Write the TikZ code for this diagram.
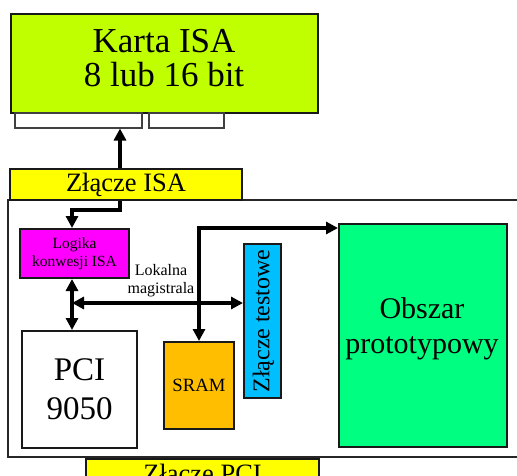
\documentclass[tikz,border=0pt]{standalone}
\usepackage{fontspec}
\setmainfont{Liberation Serif}
\usetikzlibrary{arrows.meta}
\definecolor{cardlime}{HTML}{BFFF00}
\definecolor{slotyellow}{HTML}{FFFF00}
\definecolor{logicmag}{HTML}{FF00FF}
\definecolor{sramorange}{HTML}{FFBF00}
\definecolor{testcyan}{HTML}{00BFFF}
\definecolor{protogreen}{HTML}{00FF80}
\begin{document}
\begin{tikzpicture}[x=1pt,y=-1pt,
  blk/.style={draw=black!90, line width=2pt, inner sep=0pt, align=center, anchor=north west},
  tab/.style={draw=black!75, line width=1.5pt, fill=white, inner sep=0pt, anchor=north west},
  board/.style={draw=black!85, line width=1.5pt},
  bus/.style={line width=3.5pt, line join=miter, -{Triangle[length=12pt,width=12pt]}},
  dbus/.style={line width=3.5pt, line join=miter, {Triangle[length=12pt,width=12pt]}-{Triangle[length=12pt,width=12pt]}},
  lbl/.style={align=center, inner sep=0pt, font=\fontsize{16}{18}\selectfont}
]
\useasboundingbox (0,0) rectangle (517,475);
\clip (0,0) rectangle (517,475);

% ISA card with its edge connector tabs
\node[blk, fill=cardlime, minimum width=307pt, minimum height=99pt] (card) at (10,13) {};
\node[align=center, inner sep=0pt, font=\fontsize{35}{34}\selectfont] (cardtxt) at (164,58) {Karta ISA\\8 lub 16 bit};
\node[tab, minimum width=127pt, minimum height=15pt] (tabA) at (14,112) {};
\node[tab, minimum width=75pt, minimum height=15pt] (tabB) at (148,112) {};

% board outline
\draw[board] (8,200) rectangle (540,457);

% connectors
\node[blk, fill=slotyellow, minimum width=232pt, minimum height=31pt, font=\fontsize{26.5}{28}\selectfont] (isa) at (9,168) {Złącze ISA};
\node[blk, fill=slotyellow, minimum width=233pt, minimum height=40pt, text depth=12pt, font=\fontsize{26.5}{28}\selectfont] (pci) at (85,458) {Złącze PCI};

% blocks on the board
\node[blk, fill=logicmag, minimum width=109pt, minimum height=49pt, font=\fontsize{15.5}{17.7}\selectfont] (logic) at (19,228) {Logika\\konwesji ISA};
\node[blk, fill=white, minimum width=115pt, minimum height=117pt, font=\fontsize{33}{39}\selectfont] (bridge) at (21,330) {PCI\\9050};
\node[blk, fill=sramorange, minimum width=70pt, minimum height=87pt, font=\fontsize{18.7}{20}\selectfont] (sram) at (163,341) {SRAM};
\node[blk, fill=testcyan, minimum width=37pt, minimum height=154pt] (test) at (243,243) {};
\node[rotate=90, inner sep=0pt, font=\fontsize{24}{26}\selectfont] (testtxt) at ([xshift=1pt]test.center) {Złącze testowe};
\node[blk, fill=protogreen, minimum width=168pt, minimum height=223pt] (proto) at (338,223) {};
\node[align=center, inner sep=0pt, font=\fontsize{30}{35}\selectfont] (prototxt) at (422,328.5) {Obszar\\prototypowy};

\node[lbl] (buslbl) at (161,281) {Lokalna\\magistrala};

% routing coordinates
\coordinate (isax) at (120,0);
\coordinate (busx) at (72,0);
\coordinate (busy) at (0,303);
\coordinate (sramx) at (199,0);
\coordinate (sramy) at (0,228);
\coordinate (isabend) at (120,210);

% buses
\draw[bus] (isa.north -| isax) -- (tabA.south -| isax);
\draw[bus] (isa.south -| isax) -- (isabend) -| (logic.north -| busx);
\draw[dbus] (logic.south -| busx) -- (bridge.north -| busx);
\draw[dbus] (busx |- busy) -- (test.west |- busy);
\draw[dbus] (sram.north -| sramx) |- (proto.west |- sramy);
\end{tikzpicture}
\end{document}
